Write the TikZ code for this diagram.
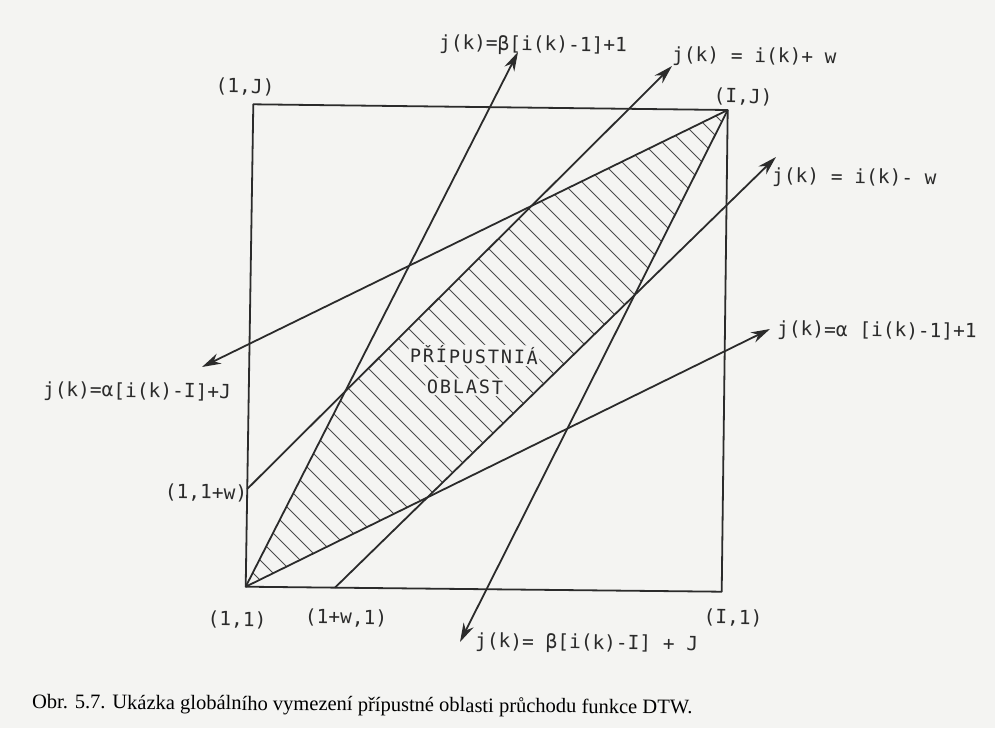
\documentclass[tikz,border=0pt]{standalone}
\usepackage{fontspec}
\setmainfont{Liberation Serif}
\newfontfamily\lblfont{DejaVu Sans Mono}
\usetikzlibrary{arrows.meta}
\definecolor{ink}{HTML}{2B2B2B}
\definecolor{paper}{HTML}{F4F4F2}
\begin{document}
\begin{tikzpicture}[x=1pt,y=-1pt,
  line/.style={draw=ink, line width=1.8pt, line join=round},
  arr/.style={line, -{Stealth[length=19pt,width=11pt,inset=6pt]}},
  hatch/.style={draw=ink!85, line width=0.85pt},
  lab/.style={text=ink, font=\lblfont\fontsize{19.5}{22}\selectfont, inner sep=0pt, rotate=-0.75},
  region/.style={lab, fill=paper, inner sep=1.5pt, font=\lblfont\fontsize{18.5}{22}\selectfont\addfontfeature{LetterSpace=10}},
  capt/.style={text=black, font=\fontsize{20.5}{24}\selectfont, inner sep=0pt, rotate=-0.5}]
\fill[paper] (0,0) rectangle (995,728);
\useasboundingbox (0,0) rectangle (995,728);

% box corners and start points
\coordinate (TL) at (253.3,104.3);
\coordinate (TR) at (727.7,110);
\coordinate (BR) at (721.7,591.7);
\coordinate (BL) at (245.7,586.7);
\coordinate (LW) at (247.2,489);
\coordinate (BW) at (335,587.6);
% arrow tips
\coordinate (ta) at (518,52);
\coordinate (tb) at (672,66);
\coordinate (tc) at (776,157);
\coordinate (td) at (770,329);
\coordinate (te) at (202,367);
\coordinate (tf) at (460,642);

% corners of the admissible region
\coordinate (P2) at (intersection of BL--ta and LW--tb);
\coordinate (P3) at (intersection of LW--tb and TR--te);
\coordinate (P5) at (intersection of TR--tf and BW--tc);
\coordinate (P6) at (intersection of BW--tc and BL--td);

\begin{scope}
  \clip (BL) -- (P2) -- (P3) -- (TR) -- (P5) -- (P6) -- cycle;
  \foreach \c in {-360,-340,...,640} \draw[hatch] (\c+100,100) -- (\c+700,700);
\end{scope}

\node[region] (r1) at (474,355) {PŘÍPUSTNIÁ};
\node[region] (r2) at (465,387) {OBLAST};

\draw[line] (TL) -- (TR) -- (BR) -- (BL) -- cycle;
\draw[arr] (BL) -- (ta);
\draw[arr] (LW) -- (tb);
\draw[arr] (BW) -- (tc);
\draw[arr] (BL) -- (td);
\draw[arr] (TR) -- (te);
\draw[arr] (TR) -- (tf);

\node[lab] (la) at (533,45) {j(k)=β[i(k)-1]+1};
\node[lab, anchor=west] (lb) at (672,56) {j(k) = i(k)+ w};
\node[lab, anchor=west] (lc) at (772,177) {j(k) = i(k)- w};
\node[lab, anchor=west] (ld) at (777,330) {j(k)=α [i(k)-1]+1};
\node[lab] (le) at (137,392) {j(k)=α[i(k)-I]+J};
\node[lab, anchor=west] (lf) at (475,642) {j(k)= β[i(k)-I] + J};

\node[lab] (c1) at (245,87) {(1,J)};
\node[lab] (c2) at (743,97) {(I,J)};
\node[lab] (c3) at (733,618) {(I,1)};
\node[lab] (c4) at (237,620) {(1,1)};
\node[lab] (c5) at (346,618) {(1+w,1)};
\node[lab] (c6) at (206,493) {(1,1+w)};

\node[capt, anchor=west] (cap) at (32,703) {Obr. 5.7. Ukázka globálního vymezení přípustné oblasti průchodu funkce DTW.};
\end{tikzpicture}
\end{document}
